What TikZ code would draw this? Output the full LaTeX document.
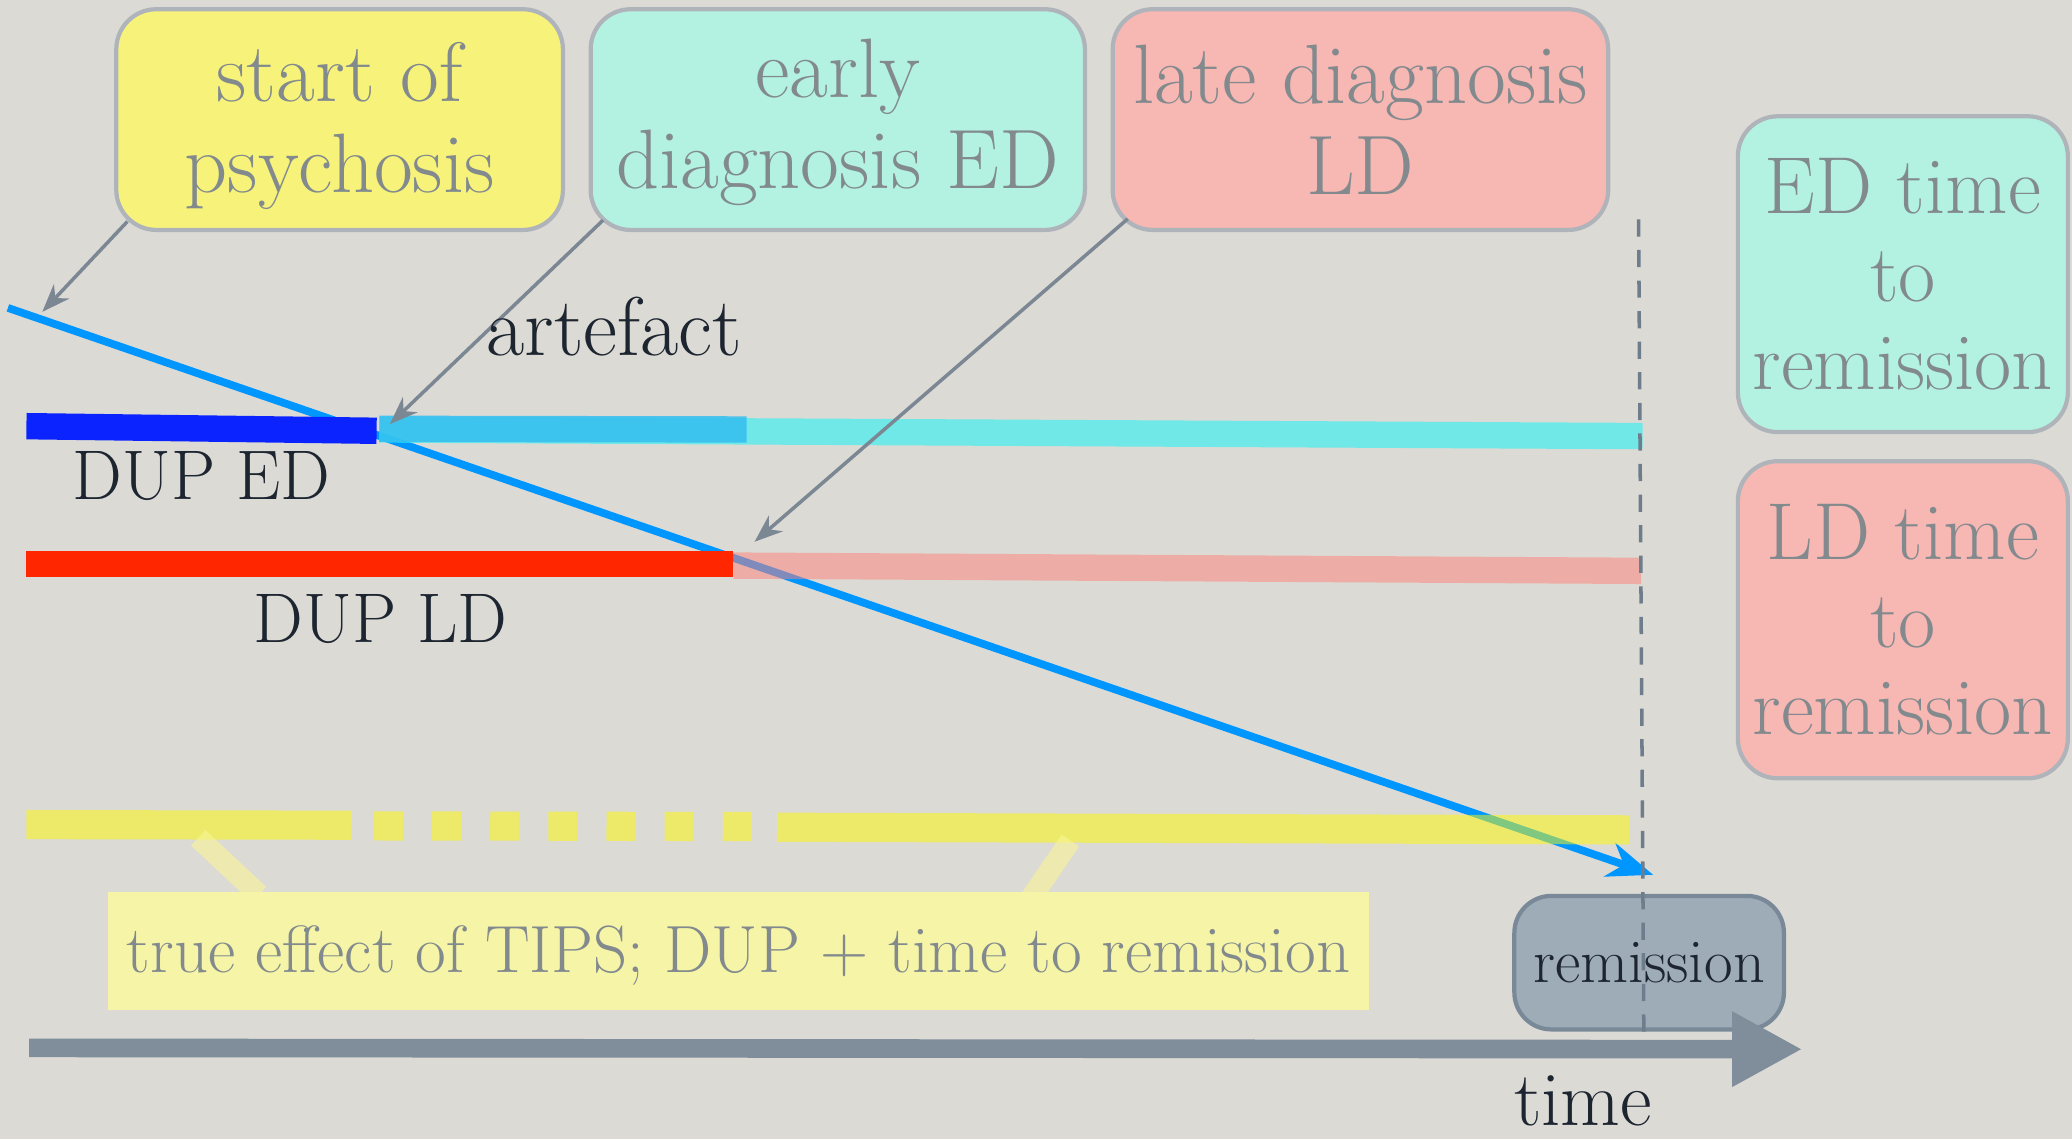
\documentclass[tikz,border=0pt]{standalone}
\usepackage{fontspec}
\usetikzlibrary{arrows.meta,calc}
\definecolor{bgc}{RGB}{220,218,213}
\definecolor{boxborder}{RGB}{175,180,186}
\definecolor{boxtext}{RGB}{130,138,142}
\definecolor{yelfill}{RGB}{247,243,122}
\definecolor{tealfill}{RGB}{179,242,224}
\definecolor{redfill}{RGB}{247,183,179}
\definecolor{darktext}{RGB}{28,37,48}
\definecolor{linkgray}{RGB}{124,135,148}
\definecolor{bluediag}{RGB}{0,150,255}
\definecolor{dupedblue}{RGB}{10,35,255}
\definecolor{lightblue}{RGB}{53,190,240}
\definecolor{cyanbar}{RGB}{40,242,245}
\definecolor{dupldred}{RGB}{255,38,0}
\definecolor{pinkbar}{RGB}{255,130,120}
\definecolor{yellowbar}{RGB}{255,250,0}
\definecolor{calloutfill}{RGB}{246,244,166}
\definecolor{tabfill}{RGB}{250,246,150}
\definecolor{axisgray}{RGB}{128,141,155}
\definecolor{remfill}{RGB}{158,172,183}
\definecolor{remborder}{RGB}{122,137,152}
\definecolor{dashgray}{RGB}{110,125,140}
\begin{document}
\begin{tikzpicture}[x=0.013214cm,y=-0.013214cm,
  topbox/.style={draw=boxborder, line width=1.2pt, rounded corners=0.4cm,
    text=boxtext, align=center, inner sep=0pt,
    font=\fontsize{24pt}{26pt}\selectfont},
  sidebox/.style={draw=boxborder, line width=1.2pt, rounded corners=0.4cm,
    text=boxtext, align=center, inner sep=0pt,
    minimum width=3.30cm, font=\fontsize{23pt}{25pt}\selectfont},
  linkarrow/.style={draw=linkgray, line width=1pt, -{Stealth[length=8pt,width=6pt]}},
  bar/.style={line width=7.5pt, line cap=butt},
  ybar/.style={line width=8.3pt, line cap=butt, draw=yellowbar, draw opacity=0.5},
  tabstrip/.style={line width=6pt, line cap=butt, draw=tabfill, draw opacity=0.6},
  darklabel/.style={text=darktext, anchor=base, inner sep=0pt},
]
% background and bounding box
\fill[bgc] (0,0) rectangle (1568,862);
\useasboundingbox (0,0) rectangle (1568,862);

% top boxes
\node[topbox, fill=yelfill, minimum width=4.466cm, minimum height=2.207cm] (psy) at (257,90.5) {\rule{0pt}{20.5pt}start of\\psychosis};
\node[topbox, fill=tealfill, minimum width=4.942cm, minimum height=2.207cm] (edbox) at (634,90.5) {\rule{0pt}{18.2pt}early\\diagnosis ED};
\node[topbox, fill=redfill, minimum width=4.955cm, minimum height=2.207cm] (ldbox) at (1029.5,90.5) {late diagnosis\\LD};

% side boxes
\node[sidebox, fill=tealfill, minimum height=3.158cm] (edtime) at (1440,207.5) {ED time\\to\\remission};
\node[sidebox, fill=redfill, minimum height=3.171cm] (ldtime) at (1440,469) {LD time\\to\\remission};

% key coordinates
\coordinate (bstart) at (6,233);
\coordinate (bend) at (1251,662);
\coordinate (psytip) at (32,236);
\coordinate (edtip) at (295,321);
\coordinate (ldtip) at (571,410);

% blue diagonal (under the bars)
\draw[draw=bluediag, line width=2.2pt, -{Stealth[length=13pt,width=10pt]}] (bstart) -- (bend);

% ED bars
\draw[bar, draw=cyanbar, draw opacity=0.6] (287,325) -- (1243,330);
\draw[bar, draw=lightblue, draw opacity=0.85] (287,324.5) -- (565,325);
\draw[bar, draw=dupedblue] (20,322.5) -- (285,326);

% LD bars
\draw[bar, draw=pinkbar, draw opacity=0.5] (555,428) -- (1242,432);
\draw[bar, draw=dupldred] (20,427) -- (555,427);

% yellow bar (solid, dotted, solid)
\draw[ybar] (20,624) -- (266,624.5);
\draw[ybar, dash pattern=on 8.27pt off 8.27pt] (283,625) -- (571,625.5);
\draw[ybar] (588,626) -- (1233,628);

% link arrows
\draw[linkarrow] ([shift={(10,-8)}]psy.south west) -- (psytip);
\draw[linkarrow] ([shift={(11,-9)}]edbox.south west) -- (edtip);
\draw[linkarrow] ([shift={(13,-10)}]ldbox.south west) -- (ldtip);

% callout
\coordinate (tabAtop) at (150,634);
\coordinate (tabAbot) at (196,677);
\coordinate (tabBtop) at (810,636);
\coordinate (tabBbot) at (780,680);
\draw[tabstrip] (tabAtop) -- (tabAbot);
\draw[tabstrip] (tabBtop) -- (tabBbot);
\node[fill=calloutfill, minimum width=12.606cm, minimum height=1.176cm, inner sep=0pt,
  text=boxtext, font=\fontsize{19pt}{21pt}\selectfont] (callout) at (559,719.5)
  {\rule{0pt}{16.2pt}true effect of TIPS; DUP + time to remission};

% remission box
\node[draw=remborder, fill=remfill, line width=1.2pt, rounded corners=0.37cm,
  minimum width=2.696cm, minimum height=1.335cm, inner sep=0pt,
  text=darktext, font=\fontsize{17.7pt}{19pt}\selectfont] (rem) at (1248,728.5) {remission};

% time axis
\coordinate (axstart) at (22,793);
\coordinate (axend) at (1364,794);
\draw[draw=axisgray, line width=5.3pt, -{Triangle[length=20pt,width=20pt]}] (axstart) -- (axend);

% dashed vertical line
\coordinate (vtop) at (1240,166);
\coordinate (vbot) at (1244,785);
\draw[draw=dashgray, line width=1pt, dash pattern=on 4.9pt off 3.8pt] (vtop) -- (vbot);

% labels
\node[darklabel, font=\fontsize{23.7pt}{25pt}\selectfont] (artefact) at (465,269) {artefact};
\node[darklabel, font=\fontsize{20pt}{22pt}\selectfont] (duped) at (152.5,378) {DUP ED};
\node[darklabel, font=\fontsize{20pt}{22pt}\selectfont] (dupld) at (288,486) {DUP LD};
\node[darklabel, font=\fontsize{22pt}{24pt}\selectfont] (timelbl) at (1198,852) {time};
\end{tikzpicture}
\end{document}
